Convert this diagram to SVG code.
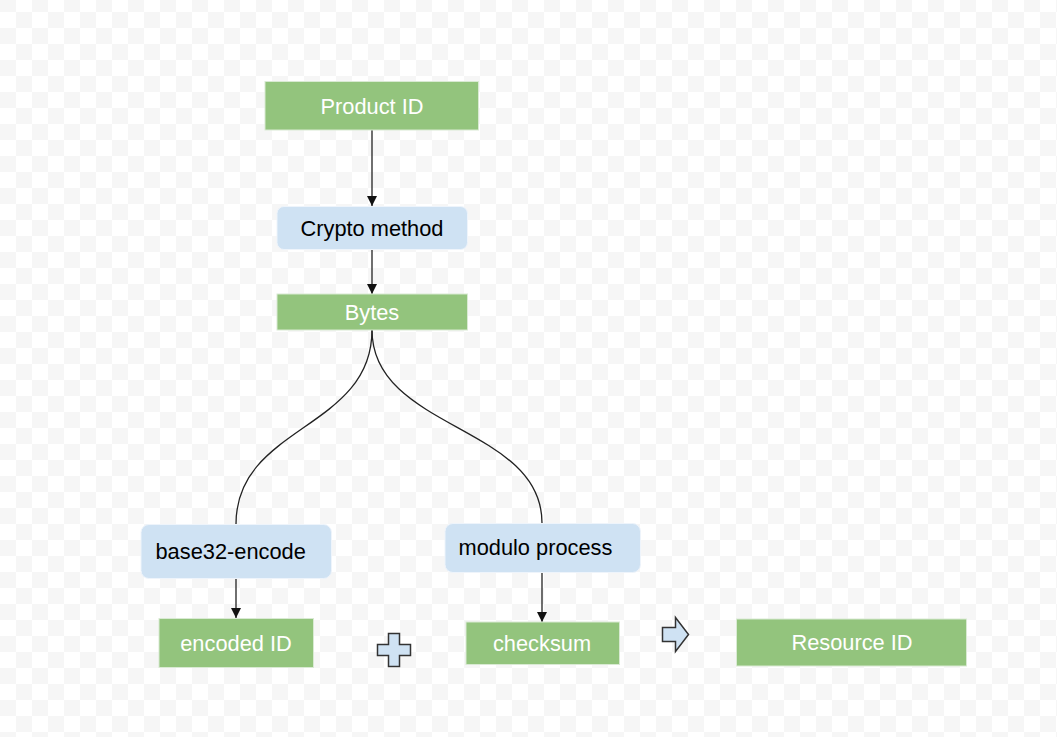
<svg xmlns="http://www.w3.org/2000/svg" width="1057" height="737" viewBox="0 0 1057 737">
  <defs>
    <pattern id="checker" x="0" y="-4" width="32" height="32" patternUnits="userSpaceOnUse">
      <rect width="32" height="32" fill="#ffffff"/>
      <rect width="16" height="16" fill="#f6f6f6"/>
      <rect x="16" y="16" width="16" height="16" fill="#f6f6f6"/>
    </pattern>
    <marker id="arrow" viewBox="0 0 10 10" refX="10" refY="5" markerWidth="10" markerHeight="10" markerUnits="userSpaceOnUse" orient="auto">
      <path d="M0,0 L10,5 L0,10 Z" fill="#111"/>
    </marker>
    <style>
      .green { fill: #93c47d; stroke: #d9ead3; stroke-width: 1; }
      .blue { fill: #cfe2f3; stroke: #eef4fb; stroke-width: 1; }
      .gt { font-family: "Liberation Sans", Arial, sans-serif; font-size: 21.8px; fill: #ffffff; text-anchor: middle; }
      .bt { font-family: "Liberation Sans", Arial, sans-serif; font-size: 21.8px; fill: #000000; }
      .conn { fill: none; stroke: #222; stroke-width: 1.3; }
      .shape { fill: #cfe2f3; stroke: #333; stroke-width: 1.5; stroke-linejoin: miter; }
    </style>
  </defs>
  <rect width="1057" height="737" fill="url(#checker)"/>

  <g id="connectors">
    <path class="conn" d="M372,130 L372,206" marker-end="url(#arrow)"/>
    <path class="conn" d="M372,249 L372,294" marker-end="url(#arrow)"/>
    <path class="conn" d="M372,330 C372,430 236,425 236,524"/>
    <path class="conn" d="M372,330 C372,430 542,425 542,523"/>
    <path class="conn" d="M236,578 L236,618" marker-end="url(#arrow)"/>
    <path class="conn" d="M542,572 L542,622" marker-end="url(#arrow)"/>
  </g>

  <g id="product-id">
    <rect class="green" x="265" y="81.5" width="213.5" height="48.5"/>
    <text class="gt" x="372" y="114">Product ID</text>
  </g>
  <g id="crypto-method">
    <rect class="blue" x="277" y="206.5" width="190.5" height="43" rx="7"/>
    <text class="bt" x="372" y="236" text-anchor="middle">Crypto method</text>
  </g>
  <g id="bytes">
    <rect class="green" x="277" y="294" width="190.5" height="36"/>
    <text class="gt" x="372" y="319.5">Bytes</text>
  </g>
  <g id="base32-encode">
    <rect class="blue" x="141" y="524.5" width="190.5" height="54" rx="8"/>
    <text class="bt" x="155.5" y="559">base32-encode</text>
  </g>
  <g id="modulo-process">
    <rect class="blue" x="445" y="523.5" width="195.5" height="49" rx="8"/>
    <text class="bt" x="458.5" y="555">modulo process</text>
  </g>
  <g id="encoded-id">
    <rect class="green" x="159" y="618.5" width="154.5" height="49"/>
    <text class="gt" x="236" y="650.5">encoded ID</text>
  </g>
  <g id="plus">
    <path class="shape" d="M388.5,633.5 L399.5,633.5 L399.5,644.5 L410.5,644.5 L410.5,655.5 L399.5,655.5 L399.5,666.5 L388.5,666.5 L388.5,655.5 L377.5,655.5 L377.5,644.5 L388.5,644.5 Z"/>
  </g>
  <g id="checksum">
    <rect class="green" x="466" y="622" width="153.5" height="42.5"/>
    <text class="gt" x="542" y="650.5">checksum</text>
  </g>
  <g id="implies-arrow">
    <path class="shape" d="M662.5,627.5 L675.5,627.5 L675.5,617.5 L688.5,634.5 L675.5,651.5 L675.5,641.5 L662.5,641.5 Z"/>
  </g>
  <g id="resource-id">
    <rect class="green" x="736.5" y="619" width="230" height="47"/>
    <text class="gt" x="852" y="650">Resource ID</text>
  </g>
</svg>
